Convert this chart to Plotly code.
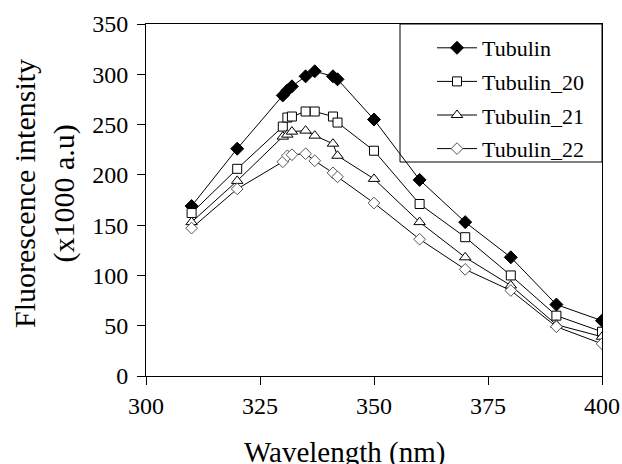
import plotly.graph_objects as go

wavelength = [310, 320, 330, 331, 332, 335, 337, 341, 342, 350, 360, 370, 380, 390, 400]
tubulin = [169, 226, 279, 284, 288, 298, 303, 298, 295, 255, 195, 153, 118, 71, 55]
tubulin_20 = [162, 206, 248, 257, 258, 263, 263, 258, 252, 224, 171, 138, 100, 60, 44]
tubulin_21 = [153, 194, 238, 240, 243, 244, 239, 231, 219, 196, 153, 118, 90, 51, 39]
tubulin_22 = [147, 186, 213, 219, 220, 221, 214, 202, 198, 172, 136, 106, 85, 49, 32]

series_names = ["Tubulin", "Tubulin_20", "Tubulin_21", "Tubulin_22"]
x_ticks = [300, 325, 350, 375, 400]
y_ticks = [0, 50, 100, 150, 200, 250, 300, 350]

FONT = "Liberation Serif"
styles = [
    dict(symbol="diamond", size=10, color="black", line=dict(color="black", width=1)),
    dict(symbol="square", size=9, color="white", line=dict(color="black", width=1)),
    dict(symbol="triangle-up", size=10, color="white", line=dict(color="black", width=1)),
    dict(symbol="diamond", size=9, color="white", line=dict(color="#555555", width=1)),
]

fig = go.Figure()
for name, ys, st in zip(series_names, [tubulin, tubulin_20, tubulin_21, tubulin_22], styles):
    fig.add_trace(go.Scatter(
        x=wavelength, y=ys, name=name, mode="lines+markers",
        line=dict(color="black", width=1),
        marker=st, legendgroup=name,
    ))

W, H = 622, 464
px0, px1, py0, py1 = 146, 602, 24, 376  # plot area in page pixels
pw, ph = px1 - px0, py1 - py0


def xp(sx):
    return (sx - px0) / pw


def yp(sy):
    return (py1 - sy) / ph


fig.update_layout(
    width=W, height=H,
    margin=dict(l=px0, r=W - px1, t=py0, b=H - py1, autoexpand=False),
    plot_bgcolor="white", paper_bgcolor="white",
    font=dict(family=FONT, color="black", size=22),
    showlegend=True,
    legend=dict(
        x=xp(432), xanchor="left",
        y=yp(27), yanchor="top",
        bgcolor="rgba(0,0,0,0)", borderwidth=0,
        font=dict(family=FONT, size=22, color="black"),
        itemwidth=40, tracegroupgap=2,
    ),
    xaxis=dict(
        range=[300, 400], tickvals=x_ticks, ticks="outside", ticklen=8,
        tickcolor="black", showline=True, linecolor="black", linewidth=1,
        mirror=True, showgrid=False, zeroline=False, automargin=False,
        tickfont=dict(family=FONT, size=24),
    ),
    yaxis=dict(
        range=[0, 350], tickvals=y_ticks, ticks="outside", ticklen=8,
        tickcolor="black", showline=True, linecolor="black", linewidth=1,
        mirror=True, showgrid=False, zeroline=False, automargin=False,
        tickfont=dict(family=FONT, size=24), ticklabelstandoff=4,
    ),
    shapes=[dict(
        type="rect", xref="paper", yref="paper",
        x0=xp(400), x1=1, y0=yp(162), y1=1,
        line=dict(color="black", width=1), fillcolor="rgba(0,0,0,0)",
    )],
    annotations=[
        dict(text="Wavelength (nm)", xref="paper", yref="paper",
             x=xp(344), y=yp(434), xanchor="center", yanchor="top",
             showarrow=False, font=dict(family=FONT, size=29)),
        dict(text="Fluorescence intensity<br>(x1000 a.u)", xref="paper", yref="paper",
             x=xp(44), y=yp(194), xanchor="center", yanchor="middle",
             textangle=-90, showarrow=False, font=dict(family=FONT, size=30)),
    ],
)

fig.write_html(
    "out.html",
    config={"displayModeBar": False},
    post_script="document.body.style.margin='0';document.body.style.overflow='hidden';",
)
